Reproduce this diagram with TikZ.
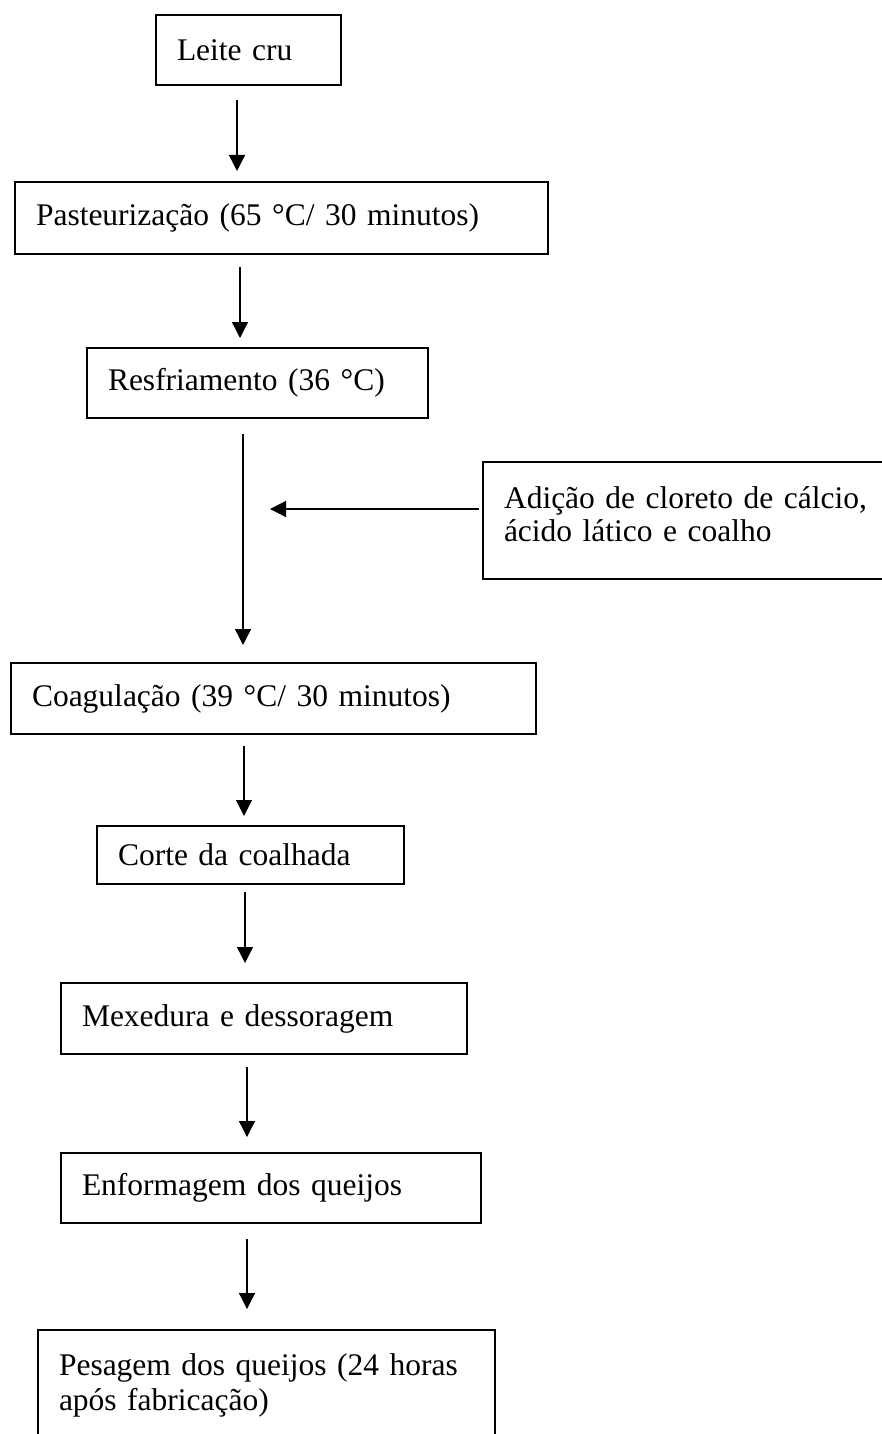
\documentclass[tikz,border=0pt]{standalone}
\usepackage{fontspec}
\setmainfont{Liberation Serif}
\usetikzlibrary{arrows.meta,calc}
\begin{document}
\begin{tikzpicture}[x=1pt,y=-1pt,
  stepbox/.style={draw, line width=1.6pt, rectangle, outer sep=0pt, inner xsep=21pt, inner ysep=0pt, align=left, font=\fontsize{31.5}{35}\selectfont},
  arr/.style={line width=1.3pt, -{Triangle[length=16pt,width=16pt]}}]
\useasboundingbox (0,0) rectangle (882,1434);
\clip (0,0) rectangle (882,1434);
\fill[white] (0,0) rectangle (882,1434);

\node[stepbox, minimum width=185pt, minimum height=70pt, text width=143pt] (b1) at (248.5,50) {Leite cru};
\node[stepbox, minimum width=533pt, minimum height=72pt, text width=491pt] (b2) at (281.5,218) {Pasteurização (65 °C/ 30 minutos)};
\node[stepbox, minimum width=341pt, minimum height=70pt, text width=299pt] (b3) at (257.5,383) {Resfriamento (36 °C)};
\node[stepbox, minimum width=417pt, minimum height=117pt, text width=375pt, text depth=45pt, font=\fontsize{31.5}{33}\selectfont] (side) at (691.5,520.5) {Adição de cloreto de cálcio,\\ácido lático e coalho};
\node[stepbox, minimum width=525pt, minimum height=71pt, text width=483pt] (b4) at (273.5,698.5) {Coagulação (39 °C/ 30 minutos)};
\node[stepbox, minimum width=307pt, minimum height=58pt, text width=265pt] (b5) at (250.5,855) {Corte da coalhada};
\node[stepbox, minimum width=406pt, minimum height=71pt, text width=364pt] (b6) at (264,1018.5) {Mexedura e dessoragem};
\node[stepbox, minimum width=420pt, minimum height=70pt, text width=378pt] (b7) at (271,1188) {Enformagem dos queijos};
\node[stepbox, minimum width=457pt, minimum height=110pt, text width=415pt] (b8) at (266.5,1385) {Pesagem dos queijos (24 horas\\após fabricação)};

\coordinate (x1) at (237,0);
\coordinate (x2) at (240,0);
\coordinate (x3) at (243,0);
\coordinate (x4) at (244,0);
\coordinate (x5) at (245,0);
\coordinate (x6) at (247,0);
\coordinate (x7) at (247,0);
\coordinate (ys) at (0,509);

\draw[arr] ($(b1.south -| x1)+(0,15)$) -- ($(b2.north -| x1)+(0,-11)$);
\draw[arr] ($(b2.south -| x2)+(0,13)$) -- ($(b3.north -| x2)+(0,-10)$);
\draw[arr] ($(b3.south -| x3)+(0,16)$) -- ($(b4.north -| x3)+(0,-18)$);
\draw[arr] ($(side.west |- ys)+(-4,0)$) -- ($(x3 |- ys)+(27,0)$);
\draw[arr] ($(b4.south -| x4)+(0,12)$) -- ($(b5.north -| x4)+(0,-10)$);
\draw[arr] ($(b5.south -| x5)+(0,8)$) -- ($(b6.north -| x5)+(0,-20)$);
\draw[arr] ($(b6.south -| x6)+(0,13)$) -- ($(b7.north -| x6)+(0,-16)$);
\draw[arr] ($(b7.south -| x7)+(0,16)$) -- ($(b8.north -| x7)+(0,-21)$);
\end{tikzpicture}
\end{document}
